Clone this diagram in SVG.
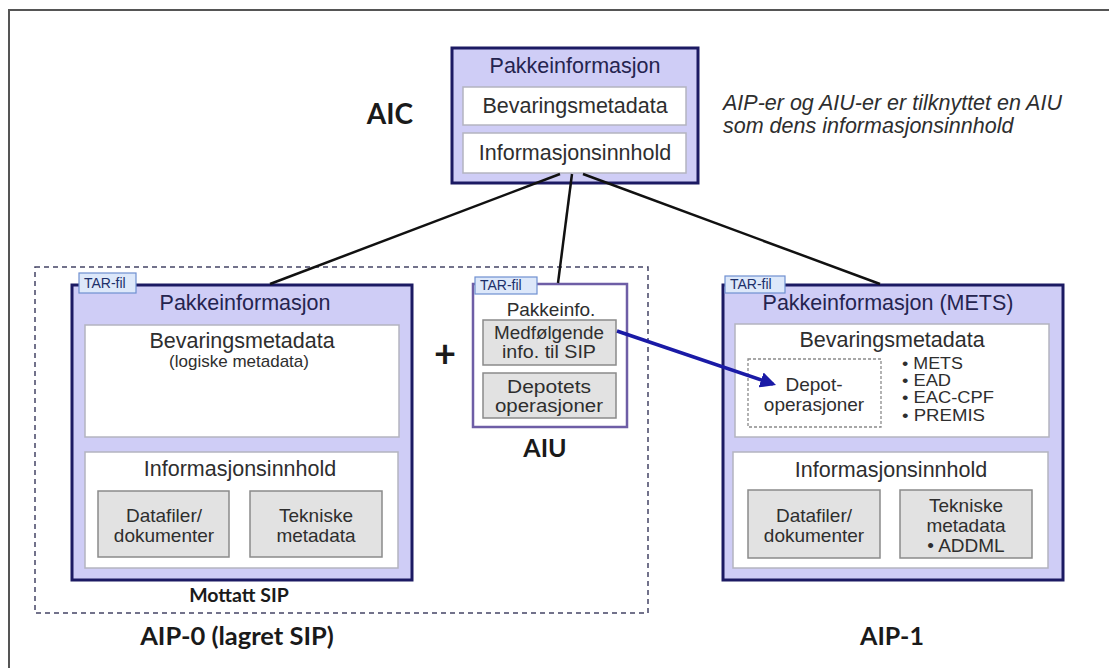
<svg xmlns="http://www.w3.org/2000/svg" width="1109" height="668" viewBox="0 0 1109 668">
  <style>
    .pkg { fill: #cfcdf6; stroke: #1c1a63; stroke-width: 3; }
    .aiu { fill: #ffffff; stroke: #6e5ea6; stroke-width: 2.5; }
    .sec { fill: #ffffff; stroke: #b4b4c0; stroke-width: 1.5; }
    .item { fill: #e2e2e2; stroke: #8a8a8a; stroke-width: 1.5; }
    .tab { fill: #dde8fa; stroke: #6f8fd0; stroke-width: 1.2; }
    .tabt { font-family: "Liberation Sans", Arial, sans-serif; font-size: 14px; fill: #1c2f6a; }
    .t { font-family: "Liberation Sans", Arial, sans-serif; fill: #2e2e2e; text-anchor: middle; dominant-baseline: central; }
    .b { font-family: "Liberation Sans", Arial, sans-serif; fill: #2e2e2e; font-size: 16px; dominant-baseline: central; }
    .hd { font-size: 21.5px; }
    .top { fill: #25244f; }
    .sm { font-size: 19px; }
    .xs { font-size: 17.5px; }
    .lbl { font-family: Lato, "Open Sans", sans-serif; font-weight: bold; fill: #1a1a1a; text-anchor: middle; dominant-baseline: central; }
    .link { stroke: #111111; stroke-width: 2.5; fill: none; }
  </style>
  <defs>
    <marker id="arrow" viewBox="0 0 10 10" refX="8" refY="5" markerWidth="4.5" markerHeight="4.5" orient="auto" markerUnits="strokeWidth">
      <path d="M0,0 L10,5 L0,10 z" fill="#1a1aa6"/>
    </marker>
  </defs>

  <!-- outer frame (top and left edges) -->
  <path d="M9,668 L9,10 L1109,10" fill="none" stroke="#555555" stroke-width="2"/>

  <!-- AIP-0 dashed container -->
  <rect x="35" y="267" width="613" height="346" fill="none" stroke="#444466" stroke-width="1.5" stroke-dasharray="5,4"/>

  <!-- AIC -->
  <g id="aic">
    <rect class="pkg" x="452" y="48" width="246" height="135"/>
    <text class="t hd top" x="575" y="66">Pakkeinformasjon</text>
    <rect class="sec" x="463" y="87" width="223" height="38"/>
    <text class="t hd" x="575" y="106">Bevaringsmetadata</text>
    <rect class="sec" x="463" y="133" width="223" height="40"/>
    <text class="t hd" x="575" y="153">Informasjonsinnhold</text>
    <text class="lbl" x="390" y="113" font-size="28">AIC</text>
  </g>

  <g id="note">
    <text font-family="'Liberation Sans', Arial, sans-serif" font-style="italic" font-size="21.5" fill="#2e2e2e">
      <tspan x="723" y="110">AIP-er og AIU-er er tilknyttet en AIU</tspan>
      <tspan x="723" y="133">som dens informasjonsinnhold</tspan>
    </text>
  </g>

  <!-- AIP-0: received SIP -->
  <g id="aip0">
    <rect class="pkg" x="72" y="285" width="340" height="295"/>
    <rect class="tab" x="79" y="273" width="57" height="20"/>
    <text class="tabt" x="84" y="288">TAR-fil</text>
    <text class="t hd top" x="245" y="303">Pakkeinformasjon</text>
    <rect class="sec" x="85" y="325" width="314" height="112"/>
    <text class="t hd" x="242" y="341">Bevaringsmetadata</text>
    <text class="t" x="239" y="361" font-size="17">(logiske metadata)</text>
    <rect class="sec" x="85" y="452" width="313" height="116"/>
    <text class="t hd" x="240" y="469">Informasjonsinnhold</text>
    <rect class="item" x="98" y="491" width="131" height="66"/>
    <text class="t sm" x="164" y="515">Datafiler/</text>
    <text class="t sm" x="164" y="535">dokumenter</text>
    <rect class="item" x="250" y="491" width="132" height="66"/>
    <text class="t sm" x="316" y="515">Tekniske</text>
    <text class="t sm" x="316" y="535">metadata</text>
    <text class="lbl" x="239" y="594" font-size="19.5">Mottatt SIP</text>
    <text class="lbl" x="237" y="635" font-size="25.5">AIP-0 (lagret SIP)</text>
  </g>

  <g id="plus">
    <text class="lbl" x="445" y="352" font-size="38">+</text>
  </g>

  <!-- AIU -->
  <g id="aiu">
    <rect class="aiu" x="473" y="284" width="154" height="143"/>
    <rect class="tab" x="475" y="277" width="62" height="17"/>
    <text class="tabt" x="480" y="290">TAR-fil</text>
    <text class="t sm" x="551" y="309">Pakkeinfo.</text>
    <rect class="item" x="483" y="320" width="133" height="45"/>
    <text class="t xs" x="549" y="333" textLength="110" lengthAdjust="spacingAndGlyphs">Medfølgende</text>
    <text class="t xs" x="549" y="352" textLength="94" lengthAdjust="spacingAndGlyphs">info. til SIP</text>
    <rect class="item" x="483" y="373" width="133" height="45"/>
    <text class="t xs" x="549" y="387" textLength="84" lengthAdjust="spacingAndGlyphs">Depotets</text>
    <text class="t xs" x="549" y="406" textLength="108" lengthAdjust="spacingAndGlyphs">operasjoner</text>
    <text class="lbl" x="545" y="447" font-size="25">AIU</text>
  </g>

  <!-- AIP-1 -->
  <g id="aip1">
    <rect class="pkg" x="723" y="285" width="340" height="295"/>
    <rect class="tab" x="725" y="276" width="60" height="17"/>
    <text class="tabt" x="730" y="289">TAR-fil</text>
    <text class="t hd top" x="888" y="303">Pakkeinformasjon (METS)</text>
    <rect class="sec" x="735" y="324" width="314" height="113"/>
    <text class="t hd" x="892" y="340">Bevaringsmetadata</text>
    <rect x="748" y="359" width="133" height="68" fill="#ffffff" stroke="#8a8a8a" stroke-width="1.3" stroke-dasharray="3,2"/>
    <text class="t sm" x="814" y="384">Depot-</text>
    <text class="t sm" x="814" y="404">operasjoner</text>
    <text class="b" x="902" y="363" textLength="61" lengthAdjust="spacingAndGlyphs">• METS</text>
    <text class="b" x="902" y="380" textLength="49" lengthAdjust="spacingAndGlyphs">• EAD</text>
    <text class="b" x="902" y="397" textLength="92" lengthAdjust="spacingAndGlyphs">• EAC-CPF</text>
    <text class="b" x="902" y="415" textLength="83" lengthAdjust="spacingAndGlyphs">• PREMIS</text>
    <rect class="sec" x="733" y="452" width="315" height="116"/>
    <text class="t hd" x="891" y="470">Informasjonsinnhold</text>
    <rect class="item" x="748" y="490" width="132" height="68"/>
    <text class="t sm" x="814" y="515">Datafiler/</text>
    <text class="t sm" x="814" y="535">dokumenter</text>
    <rect class="item" x="900" y="490" width="132" height="68"/>
    <text class="t sm" x="966" y="505">Tekniske</text>
    <text class="t sm" x="966" y="525">metadata</text>
    <text class="t sm" x="966" y="545">• ADDML</text>
    <text class="lbl" x="892" y="635" font-size="25">AIP-1</text>
  </g>

  <!-- connectors -->
  <g id="connectors">
    <line class="link" x1="560" y1="174" x2="270" y2="284"/>
    <line class="link" x1="572" y1="174" x2="558" y2="283"/>
    <line class="link" x1="583" y1="174" x2="880" y2="284"/>
    <line x1="617" y1="331" x2="773" y2="384" stroke="#1a1aa6" stroke-width="3.5" marker-end="url(#arrow)"/>
  </g>
</svg>
